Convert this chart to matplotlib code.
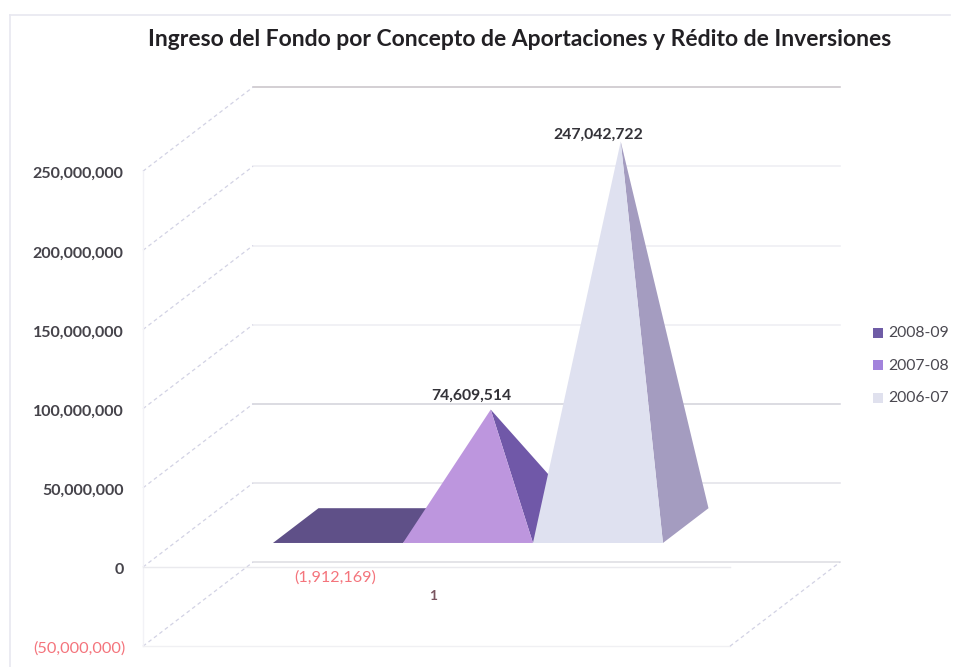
import matplotlib
matplotlib.use('Agg')
import matplotlib.pyplot as plt
from matplotlib.lines import Line2D
from matplotlib.patches import Polygon, Rectangle

plt.rcParams['font.family'] = ['Lato', 'DejaVu Sans']

# data
periods = ['2008-09', '2007-08', '2006-07']
values = [-1912169, 74609514, 247042722]
axis_ticks = [-50000000, 0, 50000000, 100000000, 150000000, 200000000, 250000000]
title = 'Ingreso del Fondo por Concepto de Aportaciones y Rédito de Inversiones'

# colours per series: front face, right face
front_cols = ['#5f5088', '#bd96de', '#dfe1f0']
side_cols = ['#5f5088', '#7058a8', '#a49cc0']
legend_cols = ['#6f5ca6', '#a283dc', '#e0e1ee']

W, H = 954, 667
px_per_x = 130.0            # one bar width
px_per_y = 475.0 / 300e6
x0_px, y0_px = 436.5, 567   # middle bar centre / zero on the front plane
depth_dx = 110 / px_per_x
depth_dy = 84 / px_per_y
d_front, d_back = 0.286, 0.70
height_shrink = 0.982       # pyramids come out a bit shorter than the walls


def proj(x, v, d=0.0):
    return x + d * depth_dx, v + d * depth_dy


fig = plt.figure(figsize=(W / 100, H / 100), dpi=100)
ax = fig.add_axes([0, 0, 1, 1])
ax.set_xlim(1 - x0_px / px_per_x, 1 + (W - x0_px) / px_per_x)
ax.set_ylim(-(H - y0_px) / px_per_y, y0_px / px_per_y)
ax.axis('off')

# frame round the picture
for xs, ys in [([10, 10], [15, 667]), ([10, 950], [15, 15])]:
    fig.add_artist(Line2D([x / W for x in xs], [1 - y / H for y in ys],
                          color='#e8e8f0', lw=1.2))

x_left = 1 - 293.5 / px_per_x
x_right = 1 + 293.5 / px_per_x

# back wall gridlines, diagonals on the side wall, tick labels
grid_cols = {250000000: '#c8c2c8', 50000000: '#d2d2da', 0: '#e2e2e8', -50000000: '#dcdce2'}
for t in axis_ticks:
    p1, p2 = proj(x_left, t, 1), proj(x_right, t, 1)
    ax.plot([p1[0], p2[0]], [p1[1], p2[1]], color=grid_cols.get(t, '#eeeef2'), lw=1.1, zorder=1)
    p0 = proj(x_left, t, 0)
    ax.plot([p0[0], p1[0]], [p0[1], p1[1]], color='#d2d2e4', lw=0.9, ls=(0, (3, 2.5)), zorder=1)
    if t < 0:
        label = f'({abs(t):,})'
        col = '#f4747c'
        ax.annotate(label, p0, xytext=(-12.5, -2), textcoords='offset points', ha='right',
                    va='center', fontsize=11.8, color=col)
    else:
        label = f'{t:,}'
        col = '#45434a'
        ax.annotate(label, p0, xytext=(-14, -2.2), textcoords='offset points', ha='right',
                    va='center', fontsize=11.5, color=col, fontweight='bold')

# side wall and floor
ax.plot([x_left, x_left], [axis_ticks[0], axis_ticks[-1]], color='#f2f2f6', lw=1, zorder=1)
ax.plot([x_left, x_right], [axis_ticks[0], axis_ticks[0]], color='#f0f0f3', lw=1, zorder=1)
ax.plot([x_left, x_right], [0, 0], color='#eaeaee', lw=1, zorder=1)
ax.plot(*zip(proj(x_right, axis_ticks[0], 0), proj(x_right, axis_ticks[0], 1)),
        color='#d2d2e4', lw=0.9, ls=(0, (3, 2.5)), zorder=1)

# pyramids, back to front of the drawing order as in the original
for i, (v, fc, sc) in enumerate(zip(values, front_cols, side_cols)):
    xl, xr, xc = i - 0.5, i + 0.5, float(i)
    d_mid = (d_front + d_back) / 2
    apex = proj(xc, v * height_shrink, d_mid)
    bl = proj(xl, 0, d_front)
    br = proj(xr, 0, d_front)
    tr = proj(xr, 0, d_back)
    tl = proj(xl, 0, d_back)
    if v < 0:
        # upside down and nearly flat: only the base shows
        ax.add_patch(Polygon([bl, br, tr, tl], closed=True, fc=fc, ec='none', zorder=3))
        continue
    ax.add_patch(Polygon([br, tr, apex], closed=True, fc=sc, ec='none', zorder=3 + i))
    ax.add_patch(Polygon([bl, br, apex], closed=True, fc=fc, ec='none', zorder=3 + i))

# data labels
d_mid = (d_front + d_back) / 2
ax.annotate(f'{values[2]:,}', proj(2, values[2] * height_shrink, d_mid), xytext=(-16, 5),
            textcoords='offset points', ha='center', va='center', fontsize=11.3, color='#333238',
            fontweight='bold', zorder=10)
ax.annotate(f'{values[1]:,}', proj(1, values[1] * height_shrink, d_mid), xytext=(-14, 10),
            textcoords='offset points', ha='center', va='center', fontsize=11.3, color='#333238',
            fontweight='bold', zorder=10)
ax.annotate(f'({abs(values[0]):,})', proj(0, 0, d_front), xytext=(-2, -25),
            textcoords='offset points', ha='center', va='center', fontsize=11.6, color='#f4747c',
            zorder=10)
ax.annotate('1', proj(1, 0, d_front), xytext=(-25, -38), textcoords='offset points',
            ha='center', va='center', fontsize=10, color='#7a5560', fontweight='bold', zorder=10)

ax.text(519.5 / W, 1 - 40 / H, title, transform=ax.transAxes, ha='center', va='center',
        fontsize=16.5, fontweight='bold', color='#222024')

# legend
for k, (name, col) in enumerate(zip(periods, legend_cols)):
    yy = 333 + k * 32.5
    fig.add_artist(Rectangle((873 / W, 1 - (yy + 5) / H), 10 / W, 10 / H, fc=col, ec='none',
                             transform=fig.transFigure))
    fig.text(888.5 / W, 1 - yy / H, name, ha='left', va='center', fontsize=11.3, color='#4a4850')

fig.savefig('out.png', dpi=100)
